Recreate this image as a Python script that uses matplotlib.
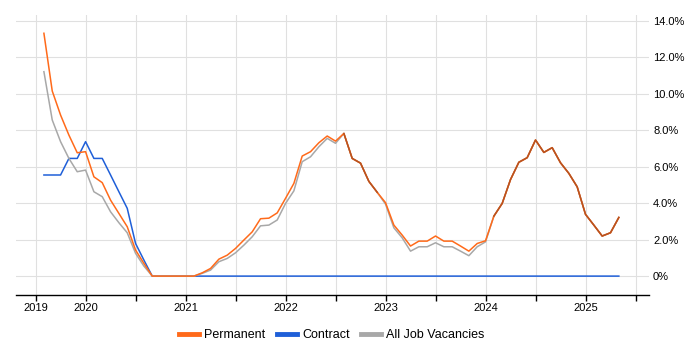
import numpy as np
import matplotlib.pyplot as plt
from matplotlib.lines import Line2D

plt.rcParams['font.family'] = ['Liberation Sans', 'DejaVu Sans']

# monthly values, Aug 2019 .. May 2025 (percent)
start_year, start_month = 2019, 8

permanent = [
    13.33, 10.16, 8.84, 7.74, 6.77,                                          # 2019 Aug-Dec
    6.83, 5.45, 5.13, 4.17, 3.44, 2.71, 1.43, 0.70, 0.0, 0.0, 0.0, 0.0,      # 2020
    0.0, 0.0, 0.18, 0.42, 0.93, 1.15, 1.52, 1.98, 2.43, 3.15, 3.18, 3.47,    # 2021
    4.27, 5.09, 6.59, 6.83, 7.32, 7.69, 7.41, 7.83, 6.46, 6.20, 5.20, 4.60,  # 2022
    4.03, 2.80, 2.25, 1.65, 1.92, 1.92, 2.20, 1.92, 1.92, 1.65, 1.37, 1.79,  # 2023
    1.94, 3.29, 3.99, 5.30, 6.25, 6.50, 7.47, 6.79, 7.05, 6.22, 5.64, 4.90,  # 2024
    3.39, 2.80, 2.20, 2.38, 3.22,                                            # 2025
]

contract = [
    5.55, 5.55, 5.55, 6.46, 6.46,
    7.38, 6.46, 6.46, 5.55, 4.63, 3.72, 1.79, 0.88, 0.0, 0.0, 0.0, 0.0,
    0.0, 0.0, 0.0, 0.0, 0.0, 0.0, 0.0, 0.0, 0.0, 0.0, 0.0, 0.0,
    0.0, 0.0, 0.0, 0.0, 0.0, 0.0, 0.0, 0.0, 0.0, 0.0, 0.0, 0.0,
    0.0, 0.0, 0.0, 0.0, 0.0, 0.0, 0.0, 0.0, 0.0, 0.0, 0.0, 0.0,
    0.0, 0.0, 0.0, 0.0, 0.0, 0.0, 0.0, 0.0, 0.0, 0.0, 0.0, 0.0,
    0.0, 0.0, 0.0, 0.0, 0.0,
]

all_jobs = [
    11.22, 8.57, 7.38, 6.46, 5.73,
    5.82, 4.63, 4.36, 3.53, 2.93, 2.38, 1.25, 0.55, 0.0, 0.0, 0.0, 0.0,
    0.0, 0.0, 0.15, 0.33, 0.79, 0.97, 1.28, 1.70, 2.16, 2.76, 2.80, 3.08,
    3.99, 4.68, 6.28, 6.55, 7.10, 7.56, 7.29, 7.83, 6.46, 6.20, 5.20, 4.60,
    3.95, 2.65, 2.10, 1.37, 1.61, 1.61, 1.83, 1.61, 1.61, 1.37, 1.12, 1.61,
    1.88, 3.29, 3.99, 5.30, 6.25, 6.50, 7.47, 6.79, 7.05, 6.22, 5.64, 4.90,
    3.39, 2.80, 2.20, 2.38, 3.22,
]

tick_pos = [2019.5, 2020, 2020.5, 2021, 2021.5, 2022, 2022.5, 2023, 2023.5,
            2024, 2024.5, 2025, 2025.5]
tick_labels = ['2019', '2020', '', '2021', '', '2022', '', '2023', '',
               '2024', '', '2025', '']
y_ticks = [0, 2, 4, 6, 8, 10, 12, 14]
y_labels = ['0%', '2.0%', '4.0%', '6.0%', '8.0%', '10.0%', '12.0%', '14.0%']

perm = np.array(permanent)
cont = np.array(contract)
allj = np.array(all_jobs)
x = start_year + (start_month - 1) / 12 + np.arange(len(perm)) / 12

c_perm = '#ff6a1a'
c_cont = '#1f5fd8'
c_all = '#a8a8a8'

fig = plt.figure(figsize=(7, 3.5), dpi=100)
ax = fig.add_axes([0.0224, 0.157, 0.9046, 0.8])

ax.plot(x, cont, color=c_cont, lw=1.1, zorder=3)
ax.plot(x, allj, color=c_all, lw=1.1, zorder=4)
ax.plot(x, perm, color=c_perm, lw=1.1, zorder=5)
# where permanent and all vacancies coincide the reference shows a darker blend
both = np.where(np.isclose(perm, allj) & (perm > 0), perm, np.nan)
ax.plot(x, both, color='#b9521f', lw=1.1, zorder=6)

ax.set_xlim(2019.301, 2025.634)
ax.set_ylim(-1.04, 14.33)
ax.set_xticks(tick_pos)
ax.set_xticklabels(tick_labels, fontsize=8)
ax.set_yticks(y_ticks)
ax.set_yticklabels(y_labels, fontsize=8)
ax.yaxis.tick_right()
ax.tick_params(axis='y', length=0, pad=3)
ax.tick_params(axis='x', length=4, width=1, color='black', pad=2)
ax.grid(True, color='#e0e0e0', lw=0.8)
ax.set_axisbelow(True)
for s in ['top', 'right', 'left']:
    ax.spines[s].set_visible(False)
ax.spines['bottom'].set_color('black')
ax.spines['bottom'].set_linewidth(1)

handles = [Line2D([], [], color=c_perm, lw=3.5),
           Line2D([], [], color=c_cont, lw=3.5),
           Line2D([], [], color=c_all, lw=3.5)]
fig.legend(handles, ['Permanent', 'Contract', 'All Job Vacancies'],
           loc='center', bbox_to_anchor=(0.474, 0.043), ncol=3, frameon=False,
           fontsize=9, handlelength=1.6, handletextpad=0.4, columnspacing=0.9)

fig.savefig('out.png', dpi=100)
